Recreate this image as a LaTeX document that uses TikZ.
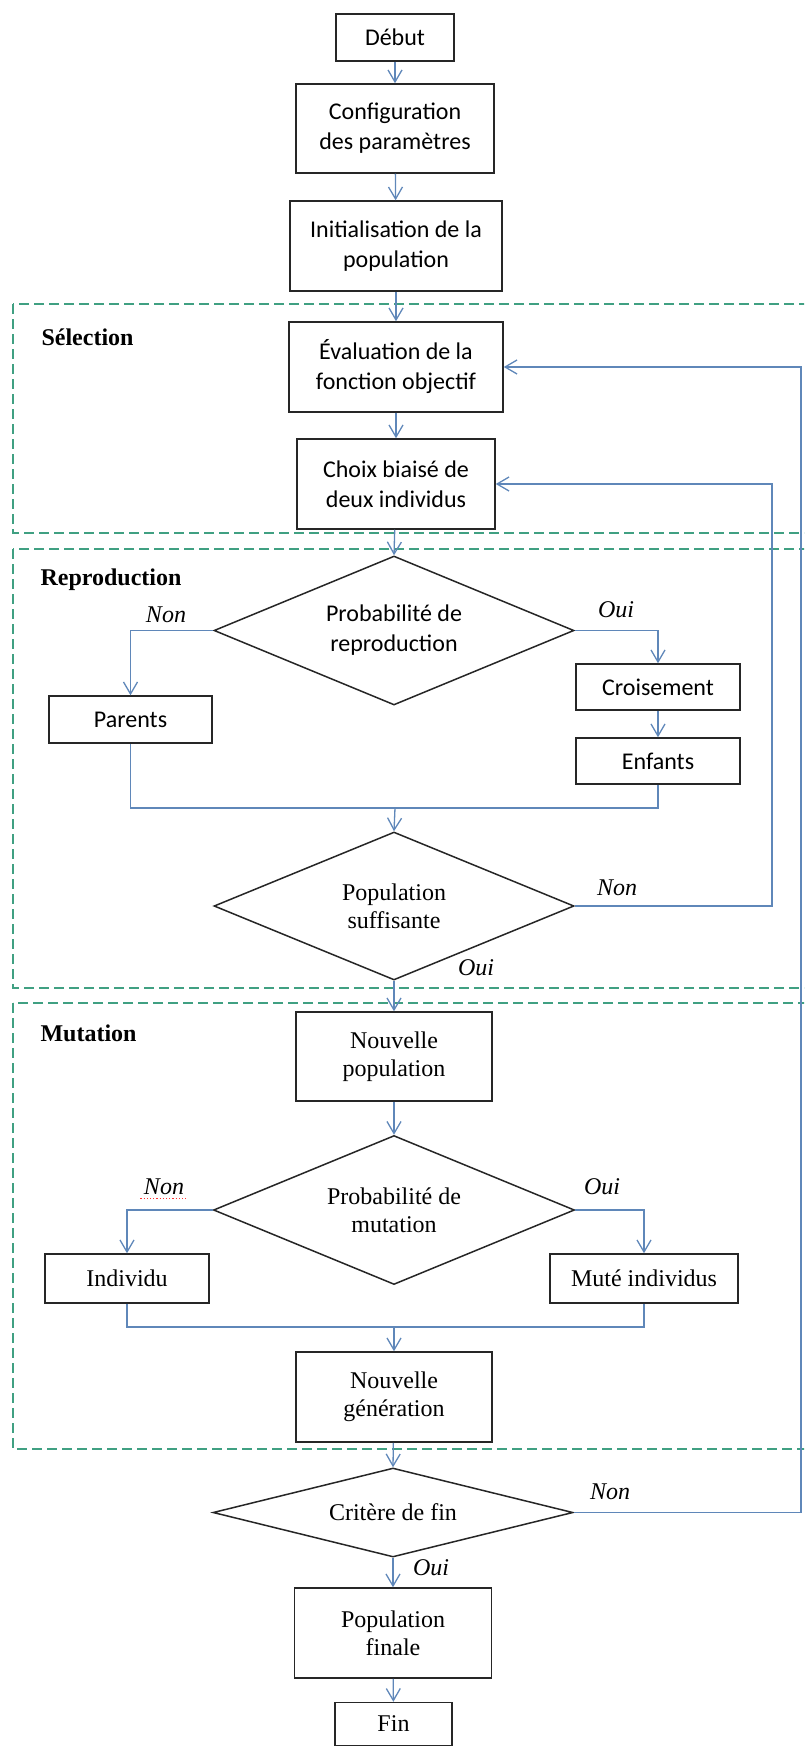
\documentclass[tikz,border=0pt]{standalone}
\usepackage{fontspec}
\setmainfont{Liberation Serif}
\newfontfamily\calib{Carlito}
\usepackage{tikz}
\usetikzlibrary{arrows.meta,shapes.geometric}

\definecolor{flechebleu}{RGB}{95,135,185}
\definecolor{cadrevert}{RGB}{64,160,130}
\newcommand\policeserif{\fontsize{24}{28}\selectfont}
\newcommand\policesans{\calib\fontsize{24}{30}\selectfont}

\tikzset{
  bloc/.style={draw=black!85, line width=1.5pt, fill=white, align=center,
    inner sep=2pt, font=\policeserif},
  blocsans/.style={bloc, font=\policesans},
  losange/.style={bloc, diamond, aspect=2.4, inner sep=1pt},
  losangesans/.style={losange, font=\policesans},
  fleche/.style={draw=flechebleu, line width=1.3pt,
    -{Straight Barb[length=12pt,width=14pt,line width=1.3pt]}},
  ligne/.style={draw=flechebleu, line width=1.3pt},
  cadre/.style={draw=cadrevert, line width=1.6pt, dash pattern=on 10pt off 5pt},
  titre/.style={anchor=west, font=\bfseries\policeserif},
  etiq/.style={font=\itshape\policeserif}
}

\begin{document}
\begin{tikzpicture}[x=1pt,y=-1pt]
                \useasboundingbox (0,0) rectangle (804,1747);
                \clip (0,0) rectangle (804,1747);
                % cadres des trois phases
                \draw[cadre] (13,304) rectangle (812,533);
                \draw[cadre] (13,549) rectangle (812,988);
                \draw[cadre] (13,1003) rectangle (812,1449);
                \node[titre] (tsel) at (38,337) {Sélection};
                \node[titre] (trep) at (37,580) {Reproduction};
                \node[titre] (tmut) at (37,1033) {Mutation};

                % blocs
                \node[blocsans, minimum width=118pt, minimum height=47pt] (debut) at (395,37.5) {Début};
                \node[blocsans, minimum width=198pt, minimum height=89pt] (config) at (395,128.5)
                    {Configuration\\des paramètres};
                \node[blocsans, minimum width=212pt, minimum height=90pt] (init) at (396,246)
                    {Initialisation de la\\population};
                \node[blocsans, minimum width=214pt, minimum height=90pt] (eval) at (396,367)
                    {Évaluation de la\\fonction objectif};
                \node[blocsans, minimum width=198pt, minimum height=90pt] (choix) at (396,484)
                    {Choix biaisé de\\deux individus};
                \node[losangesans, minimum width=360pt, minimum height=149pt] (probrep) at (394,630.5)
                    {Probabilité de\\reproduction};
                \node[blocsans, minimum width=163pt, minimum height=47pt] (parents) at (130.5,719.5) {Parents};
                \node[blocsans, minimum width=164pt, minimum height=46pt] (crois) at (658,687) {Croisement};
                \node[blocsans, minimum width=164pt, minimum height=46pt] (enfants) at (658,761) {Enfants};
                \node[losange, minimum width=360pt, minimum height=148pt] (popsuf) at (394,906)
                    {Population\\suffisante};
                \node[bloc, minimum width=196pt, minimum height=89pt] (nouvpop) at (394,1056.5)
                    {Nouvelle\\population};
                \node[losange, minimum width=361pt, minimum height=149pt] (probmut) at (394,1210)
                    {Probabilité de\\mutation};
                \node[bloc, minimum width=164pt, minimum height=49pt] (individu) at (127,1278.5) {Individu};
                \node[bloc, minimum width=188pt, minimum height=49pt] (mute) at (644,1278.5) {Muté individus};
                \node[bloc, minimum width=196pt, minimum height=90pt] (nouvgen) at (394,1397)
                    {Nouvelle\\génération};
                \node[losange, aspect=4, minimum width=360pt, minimum height=89pt] (critere) at (393,1512.5)
                    {Critère de fin};
                \node[bloc, minimum width=197pt, minimum height=90pt] (popfin) at (393,1633)
                    {Population\\finale};
                \node[bloc, minimum width=117pt, minimum height=43pt] (fin) at (393.5,1724) {Fin};

                % points de passage
                \coordinate (fusionA) at (395,808);
                \coordinate (fusionB) at (394,1327);
                \coordinate (boucleA) at (772,484);
                \coordinate (boucleB) at (801,367);

                % liaisons
                \draw[fleche] (debut) -- (config);
                \draw[fleche] (config) -- (init);
                \draw[fleche] (init) -- (eval);
                \draw[fleche] (eval) -- (choix);
                \draw[fleche] (choix) -- (probrep.north);
                \draw[fleche] (probrep.west) -| (parents.north);
                \draw[fleche] (probrep.east) -| (crois.north);
                \draw[fleche] (crois) -- (enfants);
                \draw[ligne] (parents.south) |- (fusionA) -| (enfants.south);
                \draw[fleche] (fusionA) -- (popsuf.north);
                \draw[fleche] (popsuf.east) -| (boucleA) -- (choix.east);
                \draw[fleche] (popsuf.south) -- (nouvpop.north);
                \draw[fleche] (nouvpop) -- (probmut.north);
                \draw[fleche] (probmut.west) -| (individu.north);
                \draw[fleche] (probmut.east) -| (mute.north);
                \draw[ligne] (individu.south) |- (fusionB) -| (mute.south);
                \draw[fleche] (fusionB) -- (nouvgen.north);
                \draw[fleche] (nouvgen) -- (critere.north);
                \draw[fleche] (critere.east) -| (boucleB) -- (eval.east);
                \draw[fleche] (critere.south) -- (popfin.north);
                \draw[fleche] (popfin) -- (fin);

                % etiquettes Oui / Non
                \node[etiq] (nonA) at (166,615) {Non};
                \node[etiq] (ouiA) at (616,610) {Oui};
                \node[etiq] (nonB) at (617,888) {Non};
                \node[etiq] (ouiB) at (476,968) {Oui};
                \node[etiq] (nonC) at (164,1187) {Non};
                \node[etiq] (ouiC) at (602,1187) {Oui};
                \node[etiq] (nonD) at (610,1492) {Non};
                \node[etiq] (ouiD) at (431,1568) {Oui};
                \draw[red!80, dotted, line width=1.2pt]
                    ([yshift=-4pt]nonC.base west) -- ([yshift=-4pt]nonC.base east);
            \end{tikzpicture}
\end{document}
